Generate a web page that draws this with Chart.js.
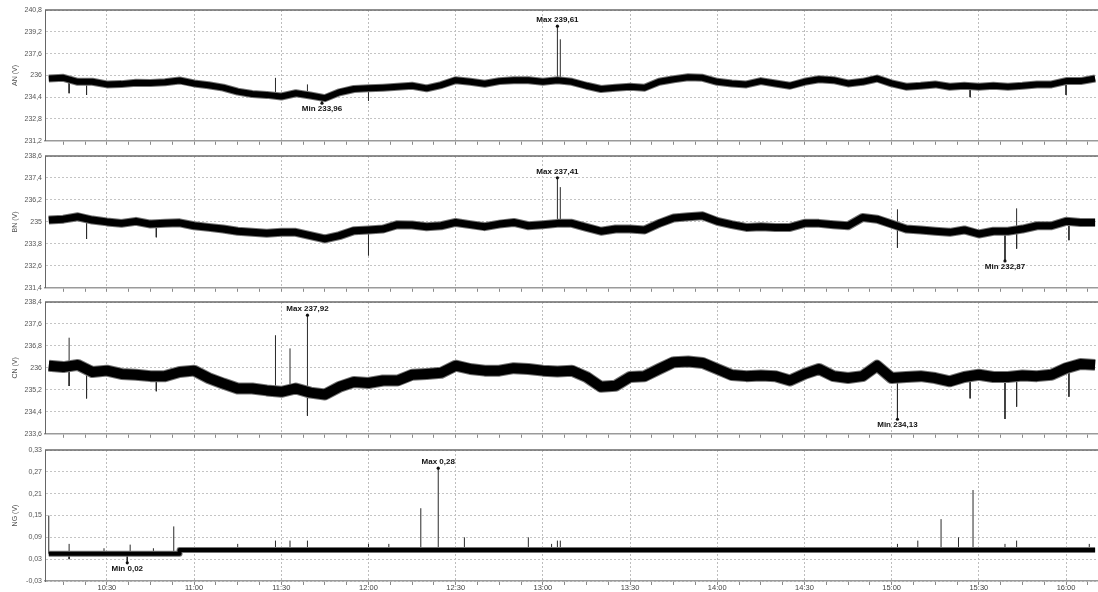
<!DOCTYPE html>
<html>
<head>
<meta charset="utf-8">
<script src="https://cdn.jsdelivr.net/npm/chart.js@4.4.1/dist/chart.umd.min.js"></script>
<style>
  html, body { margin: 0; padding: 0; background: #fff; }
  #wrap { position: relative; width: 1098px; height: 592px; overflow: hidden; }
  .panel { position: absolute; left: 0; width: 1098px; }
  canvas { display: block; }
</style>
</head>
<body>
<div id="wrap">
  <div class="panel" style="top:0px"><canvas id="an" width="1098" height="148"></canvas></div>
  <div class="panel" style="top:146px"><canvas id="bn" width="1098" height="149"></canvas></div>
  <div class="panel" style="top:292px"><canvas id="cn" width="1098" height="149"></canvas></div>
  <div class="panel" style="top:440px"><canvas id="ng" width="1098" height="152"></canvas></div>
</div>
<script>
// sample times (5 min)
const times = [
  '10:10','10:15','10:20','10:25','10:30','10:35','10:40','10:45','10:50','10:55','11:00','11:05',
  '11:10','11:15','11:20','11:25','11:30','11:35','11:40','11:45','11:50','11:55','12:00','12:05',
  '12:10','12:15','12:20','12:25','12:30','12:35','12:40','12:45','12:50','12:55','13:00','13:05',
  '13:10','13:15','13:20','13:25','13:30','13:35','13:40','13:45','13:50','13:55','14:00','14:05',
  '14:10','14:15','14:20','14:25','14:30','14:35','14:40','14:45','14:50','14:55','15:00','15:05',
  '15:10','15:15','15:20','15:25','15:30','15:35','15:40','15:45','15:50','15:55','16:00','16:05',
  '16:10'
];

const anValues = [
  235.77, 235.82, 235.53, 235.53, 235.34, 235.36, 235.46, 235.44, 235.50, 235.63, 235.41, 235.28,
  235.10, 234.81, 234.64, 234.57, 234.45, 234.69, 234.52, 234.33, 234.76, 235.00, 235.05, 235.10,
  235.17, 235.24, 235.05, 235.29, 235.65, 235.53, 235.39, 235.58, 235.65, 235.65, 235.53, 235.65,
  235.53, 235.24, 235.00, 235.10, 235.17, 235.10, 235.53, 235.72, 235.86, 235.82, 235.53, 235.41,
  235.34, 235.58, 235.41, 235.24, 235.53, 235.72, 235.65, 235.41, 235.53, 235.77, 235.41, 235.17,
  235.24, 235.34, 235.17, 235.24, 235.17, 235.24, 235.17, 235.24, 235.34, 235.34, 235.58, 235.58,
  235.77
];
const bnValues = [
  235.10, 235.15, 235.28, 235.10, 235.00, 234.92, 235.03, 234.88, 234.92, 234.95, 234.79, 234.70,
  234.61, 234.49, 234.43, 234.38, 234.43, 234.43, 234.25, 234.07, 234.25, 234.52, 234.56, 234.61,
  234.85, 234.83, 234.74, 234.79, 234.97, 234.85, 234.74, 234.88, 234.97, 234.79, 234.85, 234.92,
  234.92, 234.70, 234.49, 234.61, 234.61, 234.56, 234.92, 235.21, 235.28, 235.33, 235.03, 234.85,
  234.70, 234.74, 234.70, 234.70, 234.92, 234.92, 234.85, 234.79, 235.24, 235.15, 234.88, 234.61,
  234.56, 234.49, 234.43, 234.56, 234.34, 234.49, 234.49, 234.61, 234.79, 234.79, 235.03, 234.97,
  234.97
];
const cnValues = [
  236.08, 236.03, 236.11, 235.85, 235.90, 235.78, 235.75, 235.70, 235.70, 235.85, 235.90, 235.63,
  235.43, 235.25, 235.25, 235.18, 235.13, 235.25, 235.10, 235.03, 235.31, 235.49, 235.45, 235.54,
  235.54, 235.75, 235.78, 235.82, 236.08, 235.96, 235.90, 235.90, 235.99, 235.96, 235.90, 235.87,
  235.90, 235.67, 235.31, 235.35, 235.67, 235.70, 235.96, 236.21, 236.23, 236.18, 235.96, 235.74,
  235.70, 235.72, 235.70, 235.54, 235.78, 235.96, 235.70, 235.63, 235.70, 236.08, 235.63, 235.67,
  235.70, 235.63, 235.51, 235.67, 235.75, 235.67, 235.67, 235.72, 235.70, 235.75, 235.99, 236.14,
  236.11
];
const ngValues = [
  0.045, 0.045, 0.045, 0.045, 0.045, 0.045, 0.045, 0.045, 0.045, 0.055, 0.055, 0.055,
  0.055, 0.055, 0.055, 0.055, 0.055, 0.055, 0.055, 0.055, 0.055, 0.055, 0.055, 0.055,
  0.055, 0.055, 0.055, 0.055, 0.055, 0.055, 0.055, 0.055, 0.055, 0.055, 0.055, 0.055,
  0.055, 0.055, 0.055, 0.055, 0.055, 0.055, 0.055, 0.055, 0.055, 0.055, 0.055, 0.055,
  0.055, 0.055, 0.055, 0.055, 0.055, 0.055, 0.055, 0.055, 0.055, 0.055, 0.055, 0.055,
  0.055, 0.055, 0.055, 0.055, 0.055, 0.055, 0.055, 0.055, 0.055, 0.055, 0.055, 0.055,
  0.055
];

// single spikes: [time, tip value]
const anSpikes = [
  ['10:17', 234.69], ['10:23', 234.57], ['11:28', 235.82], ['11:39', 235.34], ['11:44', 233.96],
  ['12:00', 234.14], ['13:05', 239.61], ['13:06', 238.65], ['15:27', 234.40], ['16:00', 234.57]
];
const bnSpikes = [
  ['10:23', 234.07], ['10:47', 234.16], ['12:00', 233.17], ['13:05', 237.41], ['13:06', 236.90],
  ['15:02', 235.69], ['15:02', 233.59], ['15:39', 232.87], ['15:43', 235.74], ['15:43', 233.54],
  ['16:01', 234.00]
];
const cnSpikes = [
  ['10:17', 237.10], ['10:17', 235.34], ['10:23', 234.89], ['10:47', 235.15], ['11:28', 237.19],
  ['11:33', 236.71], ['11:39', 237.92], ['11:39', 234.26], ['15:02', 234.13], ['15:27', 234.89],
  ['15:39', 234.14], ['15:43', 234.59], ['16:01', 234.95]
];
const ngSpikes = [
  ['10:10', 0.15], ['10:17', 0.072], ['10:17', 0.03], ['10:29', 0.06], ['10:38', 0.07],
  ['10:37', 0.02], ['10:46', 0.06], ['10:53', 0.12], ['10:55', 0.06], ['11:15', 0.072],
  ['11:28', 0.081], ['11:33', 0.081], ['11:39', 0.081], ['12:00', 0.072], ['12:07', 0.072],
  ['12:18', 0.17], ['12:24', 0.28], ['12:33', 0.09], ['12:55', 0.09], ['13:03', 0.072],
  ['13:05', 0.081], ['13:06', 0.081], ['15:02', 0.072], ['15:09', 0.081], ['15:17', 0.14],
  ['15:23', 0.09], ['15:28', 0.22], ['15:39', 0.072], ['15:43', 0.081], ['16:08', 0.072]
];

// max / min markers: [kind, time, value]
const anPeaks = [['Max', '13:05', 239.61], ['Min', '11:44', 233.96]];
const bnPeaks = [['Max', '13:05', 237.41], ['Min', '15:39', 232.87]];
const cnPeaks = [['Max', '11:39', 237.92], ['Min', '15:02', 234.13]];
const ngPeaks = [['Max', '12:24', 0.28], ['Min', '10:37', 0.02]];

const anYTicks = [231.2, 232.8, 234.4, 236, 237.6, 239.2, 240.8];
const bnYTicks = [231.4, 232.6, 233.8, 235, 236.2, 237.4, 238.6];
const cnYTicks = [233.6, 234.4, 235.2, 236, 236.8, 237.6, 238.4];
const ngYTicks = [-0.03, 0.03, 0.09, 0.15, 0.21, 0.27, 0.33];

const xTickLabels = ['10:30','11:00','11:30','12:00','12:30','13:00','13:30','14:00','14:30','15:00','15:30','16:00'];

const FONT = '"Liberation Sans", Arial, sans-serif';
const xMin = 608.7;
const xMax = 971;

function toMin(s) {
  const p = s.split(':');
  return +p[0] * 60 + +p[1];
}

function fmtNum(v) {
  return parseFloat(v.toFixed(2)).toString().replace('.', ',');
}

function baseAt(points, t) {
  for (let i = 1; i < points.length; i++) {
    if (t <= points[i].x) {
      const a = points[i - 1], b = points[i];
      return a.y + (b.y - a.y) * (t - a.x) / (b.x - a.x);
    }
  }
  return points[points.length - 1].y;
}

// x ticks every 7.5 min, labels on the half hours
const xTicks = [];
for (let t = toMin(xTickLabels[0]) - 15; t < xMax; t += 7.5) {
  if (t > xMin) xTicks.push(t);
}
const isMajor = v => xTickLabels.some(l => toMin(l) === v);

// top frame line + max/min labels
const panelDecor = {
  id: 'panelDecor',
  afterDatasetsDraw(chart, args, opts) {
    const { ctx, chartArea, scales } = chart;
    ctx.save();
    ctx.strokeStyle = '#6a6a6a';
    ctx.lineWidth = 1.5;
    ctx.beginPath();
    ctx.moveTo(chartArea.left, chartArea.top);
    ctx.lineTo(chartArea.right, chartArea.top);
    ctx.stroke();

    (opts.peaks || []).forEach(p => {
      const x = scales.x.getPixelForValue(toMin(p[1]));
      const y = scales.y.getPixelForValue(p[2]);
      const below = p[0] === 'Min';
      ctx.fillStyle = '#111';
      ctx.beginPath();
      ctx.arc(x, y, 1.6, 0, Math.PI * 2);
      ctx.fill();
      ctx.font = 'bold 8px ' + FONT;
      ctx.textAlign = 'center';
      ctx.textBaseline = below ? 'top' : 'bottom';
      ctx.fillText(p[0] + ' ' + p[2].toFixed(2).replace('.', ','), x, below ? y + 2 : y - 2);
    });
    ctx.restore();
  }
};

function makePanel(id, cfg) {
  const band = times.map((t, i) => ({ x: toMin(t), y: cfg.values[i] }));
  const spikeData = [];
  cfg.spikes.forEach(s => {
    const t = toMin(s[0]);
    spikeData.push({ x: t, y: baseAt(band, t) }, { x: t, y: s[1] }, { x: t, y: null });
  });

  new Chart(document.getElementById(id), {
    type: 'line',
    data: {
      datasets: [
        { data: band, borderColor: '#000', borderWidth: cfg.width, pointRadius: 0, tension: 0,
          borderJoinStyle: 'round', stepped: cfg.stepped || false },
        { data: band, borderColor: '#767676', borderWidth: cfg.width + 2, pointRadius: 0, tension: 0,
          borderJoinStyle: 'round', stepped: cfg.stepped || false },
        { data: spikeData, borderColor: '#2a2a2a', borderWidth: 1, pointRadius: 0, spanGaps: false }
      ]
    },
    options: {
      responsive: false,
      animation: false,
      events: [],
      layout: { padding: { top: 10, left: 0, right: 0, bottom: 0 } },
      plugins: {
        legend: { display: false },
        tooltip: { enabled: false },
        panelDecor: { peaks: cfg.peaks }
      },
      scales: {
        x: {
          type: 'linear',
          min: xMin,
          max: xMax,
          afterBuildTicks: s => { s.ticks = xTicks.map(v => ({ value: v })); },
          afterFit: s => { s.height = cfg.xHeight; },
          ticks: {
            display: cfg.showLabels,
            autoSkip: false,
            maxRotation: 0,
            padding: -2,
            color: '#444',
            font: { size: 7.5, family: FONT },
            callback: v => {
              const l = xTickLabels.find(x => toMin(x) === v);
              return l || '';
            }
          },
          grid: {
            color: c => (c.tick && isMajor(c.tick.value)) ? '#bdbdbd' : 'rgba(0,0,0,0)',
            tickColor: '#8a8a8a',
            tickLength: 4,
            drawTicks: true
          },
          border: { color: '#9a9a9a', width: 1.5, dash: [2, 2] }
        },
        y: {
          min: cfg.yTicks[0],
          max: cfg.yTicks[cfg.yTicks.length - 1],
          afterBuildTicks: s => { s.ticks = cfg.yTicks.map(v => ({ value: v })); },
          afterFit: s => { s.width = 45; },
          ticks: {
            padding: 3,
            color: '#555',
            font: { size: 7, family: FONT },
            callback: v => fmtNum(v)
          },
          grid: { color: '#c4c4c4', drawTicks: false },
          border: { color: '#666', width: 1, dash: [2, 2] },
          title: {
            display: true,
            text: cfg.title,
            color: '#555',
            font: { size: 7, family: FONT },
            padding: { top: 11, bottom: 0 }
          }
        }
      }
    },
    plugins: [panelDecor]
  });
}

makePanel('an', { title: 'AN (V)', values: anValues, spikes: anSpikes, peaks: anPeaks, yTicks: anYTicks,
  width: 6, xHeight: 5, showLabels: false });
makePanel('bn', { title: 'BN (V)', values: bnValues, spikes: bnSpikes, peaks: bnPeaks, yTicks: bnYTicks,
  width: 7, xHeight: 5, showLabels: false });
makePanel('cn', { title: 'CN (V)', values: cnValues, spikes: cnSpikes, peaks: cnPeaks, yTicks: cnYTicks,
  width: 10, xHeight: 5, showLabels: false });
makePanel('ng', { title: 'NG (V)', values: ngValues, spikes: ngSpikes, peaks: ngPeaks, yTicks: ngYTicks,
  width: 4, xHeight: 11, showLabels: true, stepped: true });
</script>
</body>
</html>
